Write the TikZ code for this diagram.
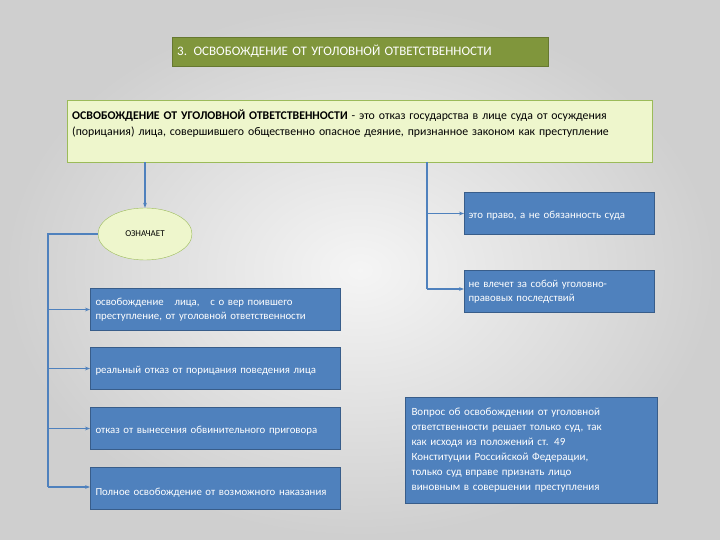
\documentclass[tikz,border=0pt]{standalone}
\usepackage{fontspec}
\setmainfont{Carlito}
\usetikzlibrary{arrows.meta,shapes.geometric}
\definecolor{bl}{RGB}{79,129,189}
\definecolor{bld}{RGB}{56,93,138}
\definecolor{olv}{RGB}{128,150,60}
\definecolor{lgr}{RGB}{238,246,204}
\definecolor{lgb}{RGB}{155,187,89}
\tikzset{
 bbox/.style={draw=bld,line width=1pt,fill=bl,text=white,font=\fontsize{10.8}{14.5}\selectfont,align=left,inner sep=4pt,anchor=north west},
 conn/.style={draw=bl,line width=1.8pt},
 arr/.style={conn,-{Stealth[length=5pt]}}
}
\begin{document}
\begin{tikzpicture}[x=1pt,y=-1pt]
\shade[inner color=gray!8,outer color=gray!38] (0,0) rectangle (720,540);
\useasboundingbox (0,0) rectangle (720,540);
\node[draw=olv!80!black,fill=olv,text=white,anchor=north west,minimum width=376pt,minimum height=29pt,text width=366pt,font=\fontsize{13}{14}\selectfont,align=left] (t) at (172,37) {3. ОСВОБОЖДЕНИЕ ОТ УГОЛОВНОЙ ОТВЕТСТВЕННОСТИ};
\node[draw=lgb,fill=lgr,anchor=north west,minimum width=585pt,minimum height=62pt,text width=575pt,align=left,text depth=34pt,font=\fontsize{11.8}{16}\selectfont,inner sep=4pt] (d) at (67,100) {\textbf{ОСВОБОЖДЕНИЕ ОТ УГОЛОВНОЙ ОТВЕТСТВЕННОСТИ} - это отказ государства в лице суда от осуждения\\(порицания) лица, совершившего общественно опасное деяние, признанное законом как преступление};
\node[ellipse,draw=lgb,fill=lgr,minimum width=94pt,minimum height=52pt,font=\fontsize{9}{10}\selectfont] (e) at (145,234) {ОЗНАЧАЕТ};
\node[bbox,minimum width=190pt,minimum height=42pt,text width=182pt] (r1) at (464,192) {\\[-3pt]это право, а не обязанность суда};
\node[bbox,minimum width=190pt,minimum height=42pt,text width=182pt] (r2) at (464,270) {не влечет за собой уголовно-\\правовых последствий};
\node[bbox,minimum width=250pt,minimum height=106pt,text width=240pt,inner sep=6pt,font=\fontsize{11}{15}\selectfont] (r3) at (405,397) {Вопрос об освобождении от уголовной\\ответственности решает только суд, так\\как исходя из положений ст. 49\\Конституции Российской Федерации,\\только суд вправе признать лицо\\виновным в совершении преступления};
\node[bbox,minimum width=250pt,minimum height=42pt,text width=240pt] (a) at (90,288) {освобождение\quad лица,\quad с о вер поившего\\преступление, от уголовной ответственности};
\node[bbox,minimum width=250pt,minimum height=42pt,text width=240pt] (b) at (90,347) {\\[-3pt]реальный отказ от порицания поведения лица};
\node[bbox,minimum width=250pt,minimum height=42pt,text width=240pt] (c) at (90,407) {\\[-3pt]отказ от вынесения обвинительного приговора};
\node[bbox,minimum width=250pt,minimum height=42pt,text width=240pt] (dd) at (90,467) {\\[1pt]Полное освобождение от возможного наказания};
% connectors
\draw[arr] (d.south -| e.north) -- (e.north);
\coordinate (rt) at (427,162);
\coordinate (rb) at (427,289);
\draw[conn] (rt) -- (rb);
\draw[arr] (rt |- r1.west) -- (r1.west);
\draw[arr] (rb) -- (r2.west |- rb);
\coordinate (lt) at (48,234);
\coordinate (lb) at (48,487);
\draw[conn] (e.west) -- (lt) -- (lb);
\draw[arr] (lt |- a.west) -- (a.west);
\draw[arr] (lt |- b.west) -- (b.west);
\draw[arr] (lt |- c.west) -- (c.west);
\draw[arr] (lb) -- (dd.west |- lb);
\end{tikzpicture}
\end{document}
